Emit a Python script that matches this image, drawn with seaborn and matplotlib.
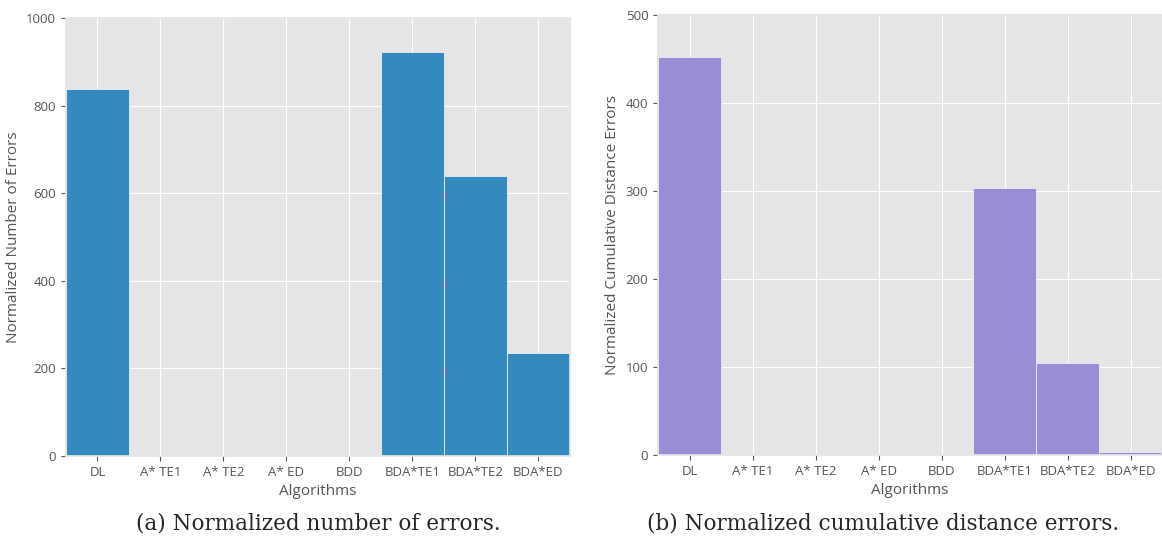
import matplotlib
matplotlib.use("Agg")
import matplotlib.pyplot as plt
import pandas as pd
import seaborn as sns

algorithms = ["DL", "A* TE1", "A* TE2", "A* ED", "BDD", "BDA*TE1", "BDA*TE2", "BDA*ED"]
num_errors = [837, 0, 0, 0, 0, 922, 640, 235]
cum_dist_errors = [452, 0, 0, 0, 0, 303, 105, 3]

sns.set_theme(style="darkgrid", rc={
    "axes.facecolor": "#E5E5E5",
    "grid.color": "white",
    "grid.linewidth": 0.8,
    "axes.edgecolor": "#E5E5E5",
    "axes.labelcolor": "#555555",
    "xtick.color": "#555555",
    "ytick.color": "#555555",
    "xtick.bottom": True,
    "ytick.left": True,
    "xtick.direction": "out",
    "ytick.direction": "out",
    "xtick.major.size": 3.5,
    "ytick.major.size": 3.5,
})
plt.rcParams["font.family"] = ["Open Sans", "DejaVu Sans"]

df = pd.DataFrame({"Algorithms": algorithms, "errors": num_errors, "dist": cum_dist_errors})

fig = plt.figure(figsize=(11.62, 5.39), dpi=100)
ax1 = fig.add_axes([0.0568, 0.154, 0.4337, 0.8126])
ax2 = fig.add_axes([0.5663, 0.156, 0.4337, 0.816])

sns.barplot(data=df, x="Algorithms", y="errors", color="#348ABD", saturation=1,
            width=1.0, edgecolor="#E8EEF4", linewidth=0.6, ax=ax1)
ax1.set_ylim(0, 1000)
ax1.set_ylabel("Normalized Number of Errors", fontsize=11)

sns.barplot(data=df, x="Algorithms", y="dist", color="#988ED5", saturation=1,
            width=1.0, edgecolor="#EDEAF8", linewidth=0.6, ax=ax2)
ax2.set_ylim(0, 500)
ax2.set_ylabel("Normalized Cumulative Distance Errors", fontsize=11)

for ax in (ax1, ax2):
    ax.set_xlim(-0.5, 7.5)
    ax.set_xlabel("Algorithms", fontsize=11)
    ax.tick_params(labelsize=9.5, width=0.8)
    ax.grid(True, axis="both", color="white")
    ax.set_axisbelow(True)

fig.text(0.2736, 0.018, "(a) Normalized number of errors.", ha="center",
         fontsize=15.5, family="DejaVu Serif")
fig.text(0.7596, 0.018, "(b) Normalized cumulative distance errors.", ha="center",
         fontsize=15.5, family="DejaVu Serif")

fig.savefig("out.png", dpi=100)
